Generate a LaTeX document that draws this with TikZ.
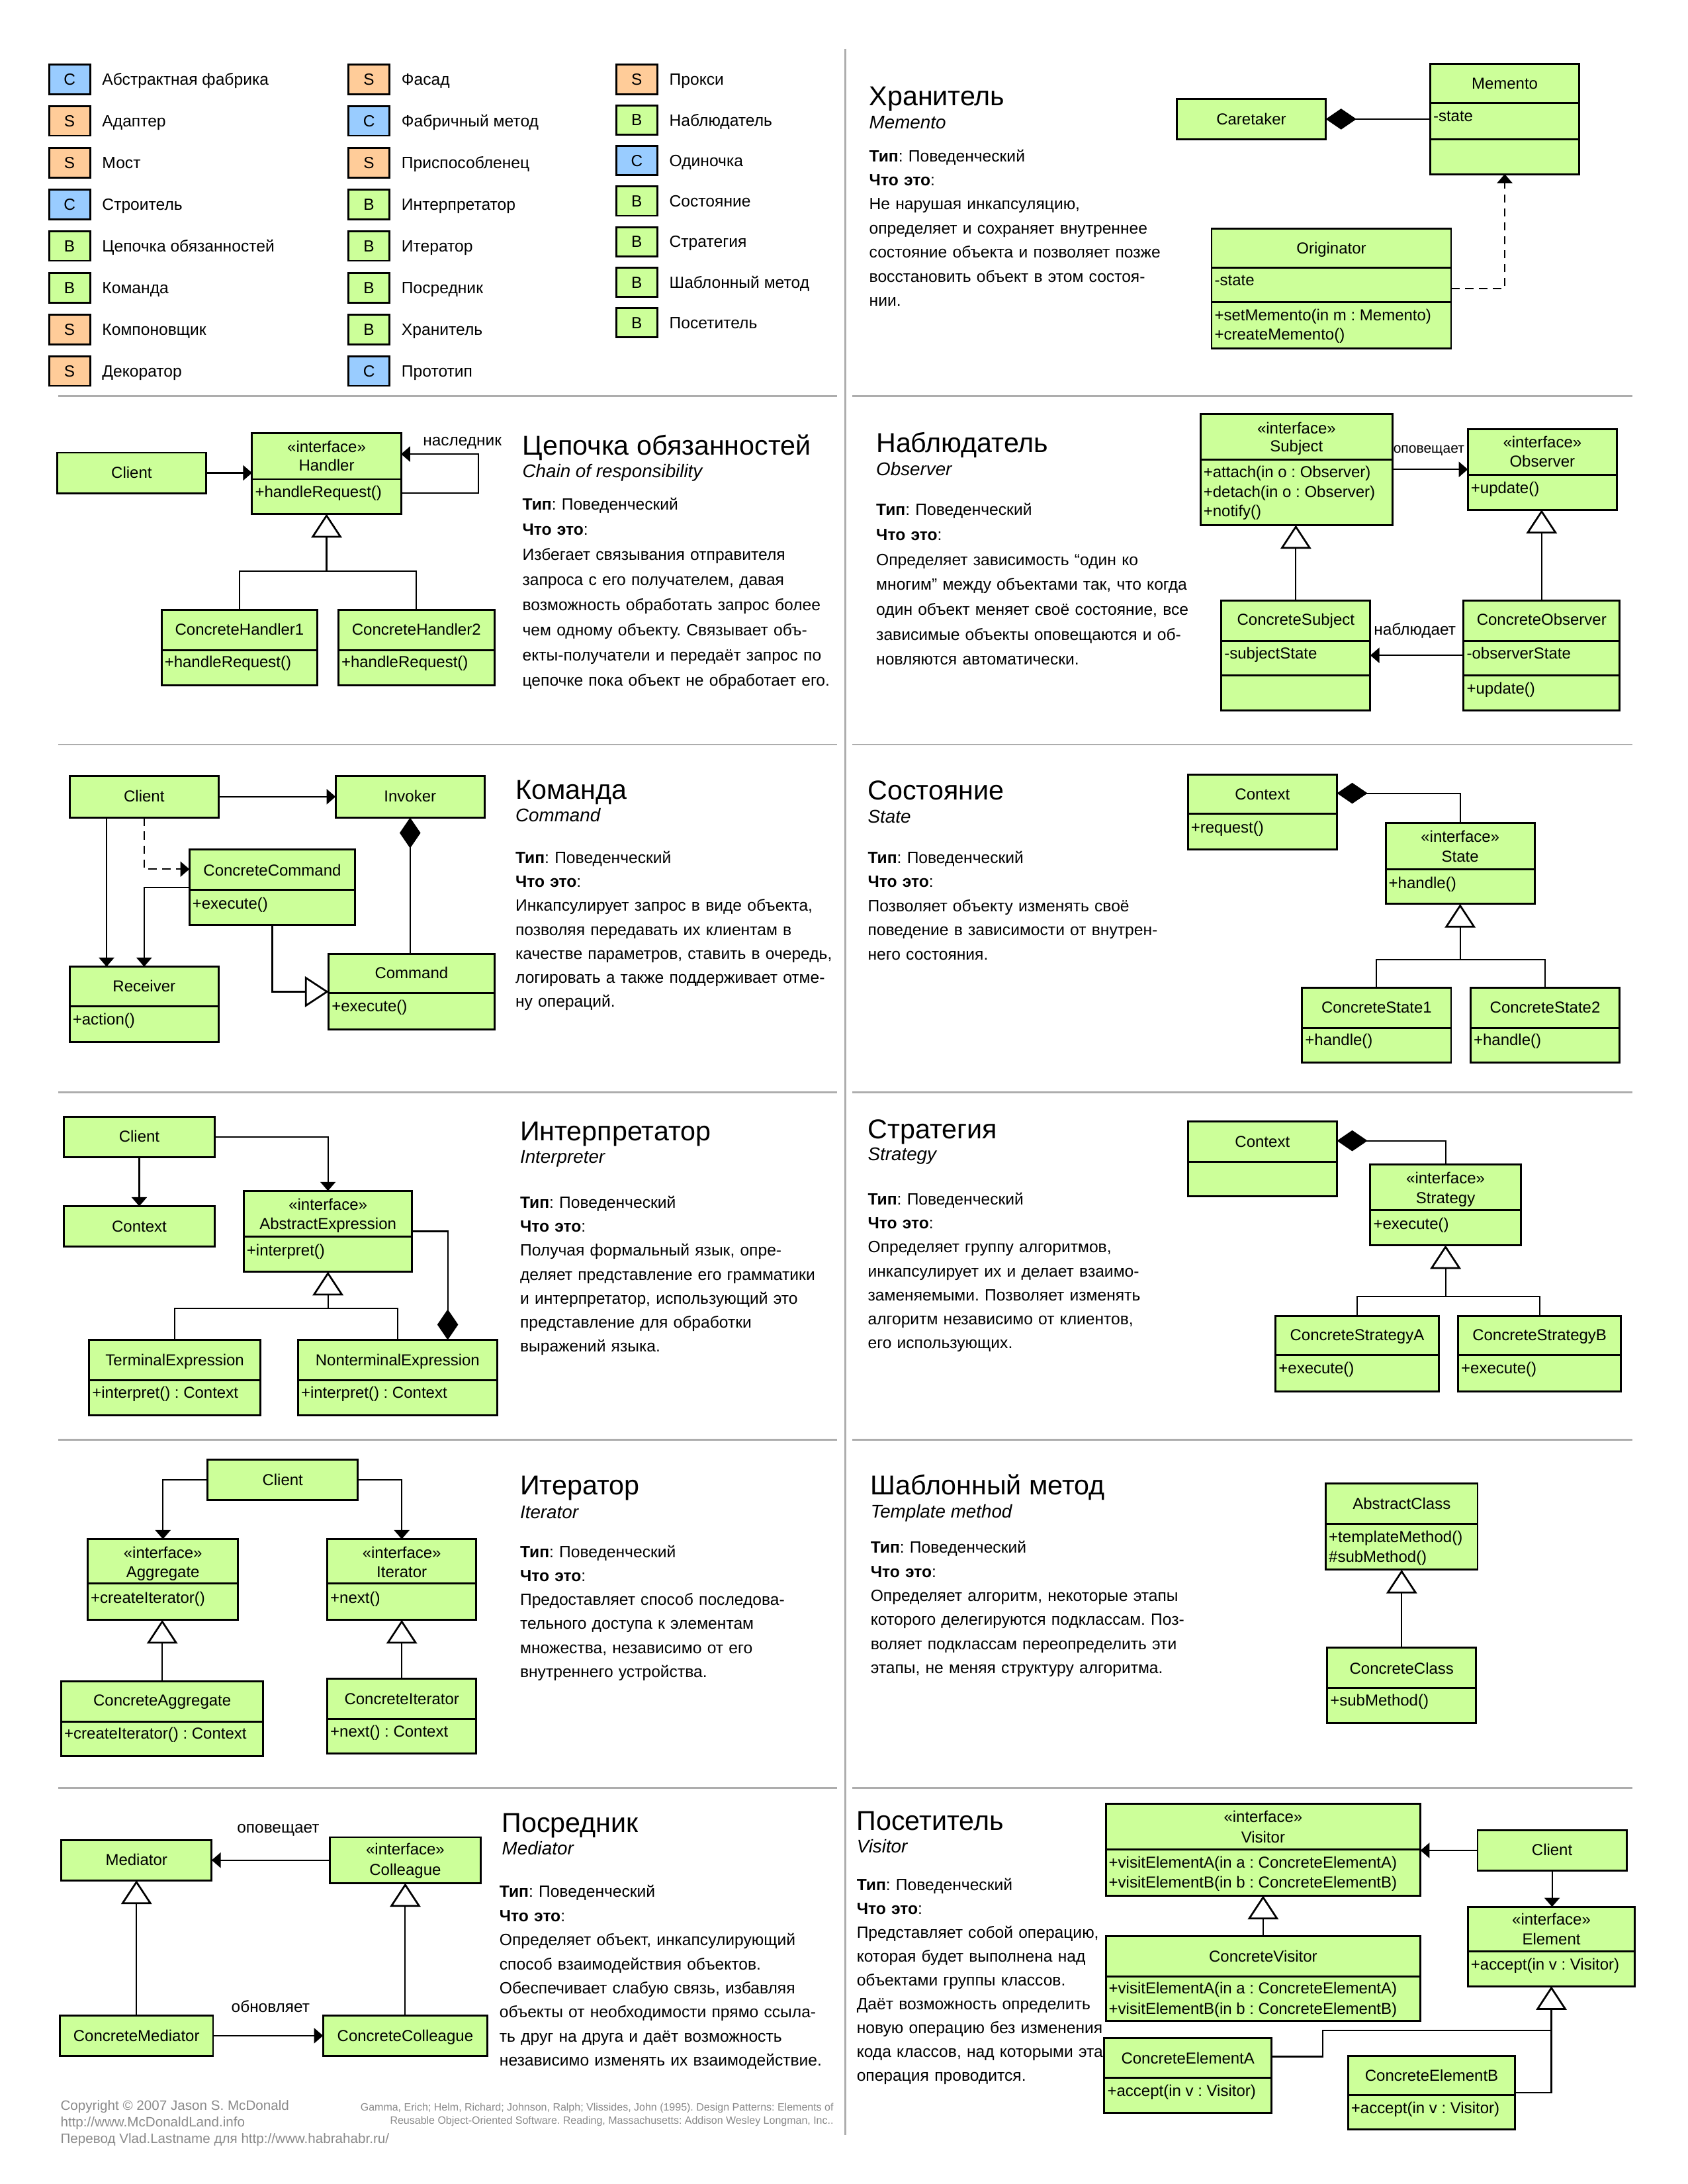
\documentclass[tikz,border=0pt]{standalone}
\usepackage{fontspec}
\setmainfont{Liberation Sans}
\usetikzlibrary{arrows.meta}
\frenchspacing
\definecolor{ugreen}{HTML}{CCFF99}
\definecolor{ublue}{HTML}{99CCFF}
\definecolor{uorange}{HTML}{FFCC99}
\definecolor{sepgray}{HTML}{ADADAD}
\definecolor{footgray}{HTML}{8A8A8A}
\tikzset{
  cls/.style={rectangle,draw=black,fill=ugreen,line width=1.4pt,inner sep=0pt,outer sep=0pt},
  cline/.style={line width=1.4pt},
  btxt/.style={inner sep=0pt,font=\fontsize{11.4}{13}\selectfont},
  btxtL/.style={btxt,inner xsep=2pt},
  conn/.style={line width=1pt},
  assoc/.style={conn,-{Triangle[length=6.5pt,width=11pt]}},
  depline/.style={conn,dash pattern=on 6pt off 4pt,-{Triangle[length=6.5pt,width=11pt]}},
  gen/.style={conn,-{Triangle[fill=white,length=17pt,width=22pt,line width=1.3pt]}},
  compS/.style={conn,{Diamond[length=22pt,width=15pt]}-},
  compE/.style={conn,-{Diamond[length=22pt,width=15pt]}},
  lbl/.style={inner sep=0pt,font=\fontsize{11.6}{13}\selectfont},
  legb/.style={rectangle,draw=black,line width=1.4pt,minimum width=29.5pt,minimum height=21pt,inner sep=0pt,font=\fontsize{11.6}{13}\selectfont},
  legt/.style={inner sep=0pt,font=\fontsize{11.7}{13}\selectfont,anchor=base west},
  ttl/.style={inner sep=0pt,anchor=base west,font=\fontsize{19.6}{22}\selectfont},
  subt/.style={inner sep=0pt,anchor=base west,font=\fontsize{13.2}{15}\selectfont\itshape},
  descr/.style={inner sep=0pt,anchor=base west,align=left,text width=300pt},
  sepline/.style={draw=sepgray,line width=1.2pt},
  foot/.style={inner sep=0pt,text=footgray,font=\fontsize{9.8}{11}\selectfont},
  foottwo/.style={inner sep=0pt,text=footgray,font=\fontsize{7.6}{9}\selectfont},
}
\newcommand\cls[5]{\node[cls,anchor=north west,minimum width={#4-#2},minimum height={#5-#3}] (#1) at (#2,#3) {};}
\newcommand\hl[2]{\draw[cline] (#1.west |- 0,#2) -- (#1.east |- 0,#2);}
\newcommand\umlC[4]{\node[btxt,anchor=base] (#1) at (#2.center |- 0,#3) {#4};}
\newcommand\umlL[4]{\node[btxtL,anchor=base west] (#1) at (#2.west |- 0,#3) {#4};}
\newcommand\leg[6]{\node[legb,fill=#4] (#1) at (#2+14.75,#3) {#5}; \node[legt] (#1-t) at (#2+38,#3+4.2) {#6};}
\newcommand\dfont[1]{\fontsize{11.7}{#1}\selectfont\frenchspacing}
\begin{document}
\begin{tikzpicture}[x=1pt,y=-1pt]
\useasboundingbox (0,0) rectangle (1212,1568);
\fill[white] (0,0) rectangle (1212,1568);

% ---------- separators
\foreach \yy in {284.5,534.5,784.3,1033.7,1283.5}{
  \draw[sepline] (42,\yy) -- (601,\yy);
  \draw[sepline] (612,\yy) -- (1172,\yy);
}
\draw[sepline] (607,35) -- (607,1533);

% ---------- legend
\leg{l11}{35.2}{57}{ublue}{C}{Абстрактная фабрика}
\leg{l12}{35.2}{86.9}{uorange}{S}{Адаптер}
\leg{l13}{35.2}{116.9}{uorange}{S}{Мост}
\leg{l14}{35.2}{146.8}{ublue}{C}{Строитель}
\leg{l15}{35.2}{176.7}{ugreen}{B}{Цепочка обязанностей}
\leg{l16}{35.2}{206.7}{ugreen}{B}{Команда}
\leg{l17}{35.2}{236.6}{uorange}{S}{Компоновщик}
\leg{l18}{35.2}{266.5}{uorange}{S}{Декоратор}
\leg{l21}{250.2}{57}{uorange}{S}{Фасад}
\leg{l22}{250.2}{86.9}{ublue}{C}{Фабричный метод}
\leg{l23}{250.2}{116.9}{uorange}{S}{Приспособленец}
\leg{l24}{250.2}{146.8}{ugreen}{B}{Интерпретатор}
\leg{l25}{250.2}{176.7}{ugreen}{B}{Итератор}
\leg{l26}{250.2}{206.7}{ugreen}{B}{Посредник}
\leg{l27}{250.2}{236.6}{ugreen}{B}{Хранитель}
\leg{l28}{250.2}{266.5}{ublue}{C}{Прототип}
\leg{l31}{442.5}{57}{uorange}{S}{Прокси}
\leg{l32}{442.5}{86.1}{ugreen}{B}{Наблюдатель}
\leg{l33}{442.5}{115.3}{ublue}{C}{Одиночка}
\leg{l34}{442.5}{144.4}{ugreen}{B}{Состояние}
\leg{l35}{442.5}{173.5}{ugreen}{B}{Стратегия}
\leg{l36}{442.5}{202.7}{ugreen}{B}{Шаблонный метод}
\leg{l37}{442.5}{231.8}{ugreen}{B}{Посетитель}

% ---------- Memento
\node[ttl] (memT) at (624,76) {Хранитель};
\node[subt] (memS) at (624,92.3) {Memento};
\node[descr,font=\dfont{17.3}] (memD) at (624,116) {\textbf{Тип}: Поведенческий\\\textbf{Что это}:\\Не нарушая инкапсуляцию,\\определяет и сохраняет внутреннее\\состояние объекта и позволяет позже\\восстановить объект в этом состоя-\\нии.};
\cls{caretaker}{845}{71}{952}{100}
\umlC{caretaker-n}{caretaker}{89.5}{Caretaker}
\cls{memento}{1027}{46}{1134}{125}
\hl{memento}{74}\hl{memento}{100}
\umlC{memento-n}{memento}{64}{Memento}
\umlL{memento-a}{memento}{87}{-state}
\cls{originator}{870}{164}{1042}{250}
\hl{originator}{192}\hl{originator}{217}
\umlC{originator-n}{originator}{182}{Originator}
\umlL{originator-a}{originator}{205}{-state}
\umlL{originator-o1}{originator}{230}{+setMemento(in m : Memento)}
\umlL{originator-o2}{originator}{244}{+createMemento()}
\draw[compS] (caretaker.east) -- (caretaker.east -| memento.west);
\draw[depline] (originator.east) -| (memento.south);

% ---------- Chain of responsibility
\node[ttl] (chT) at (375,326.6) {Цепочка обязанностей};
\node[subt] (chS) at (375,343) {Chain of responsibility};
\node[descr,font=\dfont{18}] (chD) at (375,366.3) {\textbf{Тип}: Поведенческий\\\textbf{Что это}:\\Избегает связывания отправителя\\запроса с его получателем, давая\\возможность обработать запрос более\\чем одному объекту. Связывает объ-\\екты-получатели и передаёт запрос по\\цепочке пока объект не обработает его.};
\cls{chcl}{41}{325}{148}{354}
\umlC{chcl-n}{chcl}{343.5}{Client}
\cls{handler}{181}{311}{288}{369}\hl{handler}{344}
\umlC{handler-s}{handler}{325}{«interface»}
\umlC{handler-n}{handler}{338}{Handler}
\umlL{handler-o}{handler}{357}{+handleRequest()}
\draw[assoc] (chcl.east) -- (chcl.east -| handler.west);
\draw[assoc] ([yshift=-14pt]handler.east) -- ++(55.6,0) |- ([yshift=14pt]handler.east);
\node[lbl] (chlbl) at (332,318) {наследник};
\cls{ch1}{116}{438}{228}{492}\hl{ch1}{467}
\umlC{ch1-n}{ch1}{456}{ConcreteHandler1}
\umlL{ch1-o}{ch1}{479}{+handleRequest()}
\cls{ch2}{243}{438}{355}{492}\hl{ch2}{467}
\umlC{ch2-n}{ch2}{456}{ConcreteHandler2}
\umlL{ch2-o}{ch2}{479}{+handleRequest()}
\coordinate (chj) at (234.5,410);
\draw[gen] (chj) -- (handler.south);
\draw[conn] (ch1.north) |- (chj) -| (ch2.north);

% ---------- Observer
\node[ttl] (obT) at (629,324.7) {Наблюдатель};
\node[subt] (obS) at (629,341.4) {Observer};
\node[descr,font=\dfont{17.9}] (obD) at (629,370) {\textbf{Тип}: Поведенческий\\\textbf{Что это}:\\Определяет зависимость “один ко\\многим” между объектами так, что когда\\один объект меняет своё состояние, все\\зависимые объекты оповещаются и об-\\новляются автоматически.};
\cls{subj}{862}{297}{1000}{377}\hl{subj}{330}
\umlC{subj-s}{subj}{311.3}{«interface»}
\umlC{subj-n}{subj}{324.3}{Subject}
\umlL{subj-o1}{subj}{343}{+attach(in o : Observer)}
\umlL{subj-o2}{subj}{357}{+detach(in o : Observer)}
\umlL{subj-o3}{subj}{371}{+notify()}
\cls{obs}{1054}{308}{1161}{366}\hl{obs}{341}
\umlC{obs-s}{obs}{321.6}{«interface»}
\umlC{obs-n}{obs}{335.3}{Observer}
\umlL{obs-o}{obs}{354}{+update()}
\draw[assoc] (subj.east) -- (subj.east -| obs.west);
\node[lbl,font=\fontsize{10}{12}\selectfont] (obl1) at (1026,323.5) {оповещает};
\cls{csub}{877}{431}{984}{510}\hl{csub}{460}\hl{csub}{485}
\umlC{csub-n}{csub}{449}{ConcreteSubject}
\umlL{csub-a}{csub}{473}{-subjectState}
\cls{cobs}{1051}{431}{1163}{510}\hl{cobs}{460}\hl{cobs}{485}
\umlC{cobs-n}{cobs}{449}{ConcreteObserver}
\umlL{cobs-a}{cobs}{473}{-observerState}
\umlL{cobs-o}{cobs}{498}{+update()}
\draw[gen] (csub.north) -- (csub.north |- subj.south);
\draw[gen] (cobs.north) -- (cobs.north |- obs.south);
\draw[assoc] (cobs.west) -- (cobs.west -| csub.east);
\node[lbl] (obl2) at (1016,453) {наблюдает};

% ---------- Command
\node[ttl] (cmT) at (370,573.7) {Команда};
\node[subt] (cmS) at (370,590) {Command};
\node[descr,font=\dfont{17.2}] (cmD) at (370,619.8) {\textbf{Тип}: Поведенческий\\\textbf{Что это}:\\Инкапсулирует запрос в виде объекта,\\позволяя передавать их клиентам в\\качестве параметров, ставить в очередь,\\логировать а также поддерживает отме-\\ну операций.};
\cls{cmcl}{50}{557}{157}{587}
\umlC{cmcl-n}{cmcl}{575.6}{Client}
\cls{inv}{241}{557}{348}{587}
\umlC{inv-n}{inv}{575.6}{Invoker}
\cls{cc}{136}{610}{255}{664}\hl{cc}{639}
\umlC{cc-n}{cc}{629}{ConcreteCommand}
\umlL{cc-o}{cc}{652.8}{+execute()}
\cls{cmd}{236}{685}{355}{739}\hl{cmd}{713}
\umlC{cmd-n}{cmd}{702.7}{Command}
\umlL{cmd-o}{cmd}{726.4}{+execute()}
\cls{rcv}{50}{694}{157}{748}\hl{rcv}{722.4}
\umlC{rcv-n}{rcv}{712.2}{Receiver}
\umlL{rcv-o}{rcv}{735.6}{+action()}
\draw[assoc] (cmcl.east) -- (cmcl.east -| inv.west);
\draw[assoc] ([xshift=-27pt]cmcl.south) -- ([xshift=-27pt]cmcl.south |- rcv.north);
\draw[depline] (cmcl.south) |- ([yshift=13pt]cc.west);
\draw[assoc] (cc.west) -| (rcv.north);
\draw[gen] (cc.south) |- (cmd.west);
\draw[compS] (inv.south) -- (inv.south |- cmd.north);

% ---------- State
\node[ttl] (stT) at (623,574.3) {Состояние};
\node[subt] (stS) at (623,591) {State};
\node[descr,font=\dfont{17.3}] (stD) at (623,619.8) {\textbf{Тип}: Поведенческий\\\textbf{Что это}:\\Позволяет объекту изменять своё\\поведение в зависимости от внутрен-\\него состояния.};
\cls{sctx}{853}{556}{960}{610}\hl{sctx}{584}
\umlC{sctx-n}{sctx}{574.3}{Context}
\umlL{sctx-o}{sctx}{598}{+request()}
\cls{sst}{995}{591}{1102}{649}\hl{sst}{624}
\umlC{sst-s}{sst}{604.8}{«interface»}
\umlC{sst-n}{sst}{618.7}{State}
\umlL{sst-o}{sst}{637.7}{+handle()}
\draw[compS] ([yshift=13.5pt]sctx.east) -| (sst.north);
\cls{cs1}{935}{709}{1042}{763}\hl{cs1}{738}
\umlC{cs1-n}{cs1}{727.2}{ConcreteState1}
\umlL{cs1-o}{cs1}{750.5}{+handle()}
\cls{cs2}{1056}{709}{1163}{763}\hl{cs2}{738}
\umlC{cs2-n}{cs2}{727.2}{ConcreteState2}
\umlL{cs2-o}{cs2}{750.5}{+handle()}
\coordinate (stj) at (1048.5,689);
\draw[gen] (stj) -- (sst.south);
\draw[conn] (cs1.north) |- (stj) -| (cs2.north);

% ---------- Interpreter
\node[ttl] (inT) at (373.3,818.8) {Интерпретатор};
\node[subt] (inS) at (373.3,835) {Interpreter};
\node[descr,font=\dfont{17.2}] (inD) at (373.3,867.4) {\textbf{Тип}: Поведенческий\\\textbf{Что это}:\\Получая формальный язык, опре-\\деляет представление его грамматики\\и интерпретатор, использующий это\\представление для обработки\\выражений языка.};
\cls{icl}{46}{802}{154}{831}
\umlC{icl-n}{icl}{820}{Client}
\cls{ictx}{46}{866}{154}{895}
\umlC{ictx-n}{ictx}{884.3}{Context}
\cls{ae}{175}{855}{296}{913}\hl{ae}{888}
\umlC{ae-s}{ae}{869}{«interface»}
\umlC{ae-n}{ae}{882.8}{AbstractExpression}
\umlL{ae-o}{ae}{901.5}{+interpret()}
\draw[assoc] (icl.south) -- (ictx.north);
\draw[assoc] (icl.east) -| (ae.north);
\cls{te}{64}{962}{187}{1016}\hl{te}{991}
\umlC{te-n}{te}{980.7}{TerminalExpression}
\umlL{te-o}{te}{1003.7}{+interpret() : Context}
\cls{nte}{214}{962}{357}{1016}\hl{nte}{991}
\umlC{nte-n}{nte}{980.7}{NonterminalExpression}
\umlL{nte-o}{nte}{1003.7}{+interpret() : Context}
\coordinate (inj) at (235.5,939.5);
\draw[gen] (inj) -- (ae.south);
\draw[conn] (te.north) |- (inj) -| (nte.north);
\draw[compE] (ae.east) -| ([xshift=36pt]nte.north);

% ---------- Strategy
\node[ttl] (sgT) at (623,817.5) {Стратегия};
\node[subt] (sgS) at (623,833.3) {Strategy};
\node[descr,font=\dfont{17.2}] (sgD) at (623,865) {\textbf{Тип}: Поведенческий\\\textbf{Что это}:\\Определяет группу алгоритмов,\\инкапсулирует их и делает взаимо-\\заменяемыми. Позволяет изменять\\алгоритм независимо от клиентов,\\его использующих.};
\cls{stctx}{853}{805}{960}{859}\hl{stctx}{834}
\umlC{stctx-n}{stctx}{823.9}{Context}
\cls{sstr}{984}{836}{1092}{894}\hl{sstr}{869}
\umlC{sstr-s}{sstr}{850}{«interface»}
\umlC{sstr-n}{sstr}{864}{Strategy}
\umlL{sstr-o}{sstr}{882.5}{+execute()}
\draw[compS] ([yshift=13pt]stctx.east) -| (sstr.north);
\cls{csa}{916}{945}{1033}{999}\hl{csa}{973}
\umlC{csa-n}{csa}{962.5}{ConcreteStrategyA}
\umlL{csa-o}{csa}{986.2}{+execute()}
\cls{csb}{1047}{945}{1164}{999}\hl{csb}{973}
\umlC{csb-n}{csb}{962.5}{ConcreteStrategyB}
\umlL{csb-o}{csb}{986.2}{+execute()}
\coordinate (sgj) at (1038,931);
\draw[gen] (sgj) -- (sstr.south);
\draw[conn] (csa.north) |- (sgj) -| (csb.north);

% ---------- Iterator
\node[ttl] (itT) at (373.3,1073.3) {Итератор};
\node[subt] (itS) at (373.3,1090) {Iterator};
\node[descr,font=\dfont{17.2}] (itD) at (373.3,1118.2) {\textbf{Тип}: Поведенческий\\\textbf{Что это}:\\Предоставляет способ последова-\\тельного доступа к элементам\\множества, независимо от его\\внутреннего устройства.};
\cls{itcl}{149}{1048}{257}{1077}
\umlC{itcl-n}{itcl}{1066.3}{Client}
\cls{agg}{63}{1105}{171}{1163}\hl{agg}{1137}
\umlC{agg-s}{agg}{1118.6}{«interface»}
\umlC{agg-n}{agg}{1132.3}{Aggregate}
\umlL{agg-o}{agg}{1151}{+createIterator()}
\cls{iter}{235}{1105}{342}{1163}\hl{iter}{1137}
\umlC{iter-s}{iter}{1118.6}{«interface»}
\umlC{iter-n}{iter}{1132.3}{Iterator}
\umlL{iter-o}{iter}{1151}{+next()}
\draw[assoc] (itcl.west) -| (agg.north);
\draw[assoc] (itcl.east) -| (iter.north);
\cls{cagg}{44}{1207}{189}{1261}\hl{cagg}{1236}
\umlC{cagg-n}{cagg}{1224.7}{ConcreteAggregate}
\umlL{cagg-o}{cagg}{1248.4}{+createIterator() : Context}
\cls{citer}{235}{1205}{342}{1259}\hl{citer}{1234}
\umlC{citer-n}{citer}{1223.6}{ConcreteIterator}
\umlL{citer-o}{citer}{1246.9}{+next() : Context}
\draw[gen] (cagg.north) -- (cagg.north |- agg.south);
\draw[gen] (citer.north) -- (iter.south);

% ---------- Template method
\node[ttl] (tmT) at (625,1073.3) {Шаблонный метод};
\node[subt] (tmS) at (625,1089.7) {Template method};
\node[descr,font=\dfont{17.3}] (tmD) at (625,1115) {\textbf{Тип}: Поведенческий\\\textbf{Что это}:\\Определяет алгоритм, некоторые этапы\\которого делегируются подклассам. Поз-\\воляет подклассам переопределить эти\\этапы, не меняя структуру алгоритма.};
\cls{ac}{952}{1065}{1061}{1127}\hl{ac}{1094}
\umlC{ac-n}{ac}{1083.4}{AbstractClass}
\umlL{ac-o1}{ac}{1107.5}{+templateMethod()}
\umlL{ac-o2}{ac}{1121.7}{\#subMethod()}
\cls{ccl}{953}{1183}{1060}{1237}\hl{ccl}{1212}
\umlC{ccl-n}{ccl}{1201.7}{ConcreteClass}
\umlL{ccl-o}{ccl}{1224.7}{+subMethod()}
\draw[gen] (ccl.north) -- (ccl.north |- ac.south);

% ---------- Mediator
\node[ttl] (mdT) at (360.3,1315.6) {Посредник};
\node[subt] (mdS) at (360.3,1331.7) {Mediator};
\node[descr,font=\dfont{17.3}] (mdD) at (358.5,1362.2) {\textbf{Тип}: Поведенческий\\\textbf{Что это}:\\Определяет объект, инкапсулирующий\\способ взаимодействия объектов.\\Обеспечивает слабую связь, избавляя\\объекты от необходимости прямо ссыла-\\ть друг на друга и даёт возможность\\независимо изменять их взаимодействие.};
\cls{med}{44}{1321}{152}{1350}
\umlC{med-n}{med}{1339}{Mediator}
\cls{coll}{237}{1319}{345}{1352}
\umlC{coll-s}{coll}{1331.7}{«interface»}
\umlC{coll-n}{coll}{1346.2}{Colleague}
\draw[assoc] (coll.west) -- (coll.west -| med.east);
\node[lbl] (mdl1) at (199.8,1313.8) {оповещает};
\cls{cmed}{43}{1447}{153}{1476}
\umlC{cmed-n}{cmed}{1465.5}{ConcreteMediator}
\cls{ccoll}{232}{1447}{350}{1476}
\umlC{ccoll-n}{ccoll}{1465.5}{ConcreteColleague}
\draw[gen] (cmed.north) -- (cmed.north |- med.south);
\draw[gen] (ccoll.north) -- (ccoll.north |- coll.south);
\draw[assoc] (cmed.east) -- (cmed.east -| ccoll.west);
\node[lbl] (mdl2) at (194.3,1440.3) {обновляет};

% ---------- Visitor
\node[ttl] (vsT) at (615,1313.8) {Посетитель};
\node[subt] (vsS) at (615,1330) {Visitor};
\node[descr,font=\dfont{17.1}] (vsD) at (615,1357.2) {\textbf{Тип}: Поведенческий\\\textbf{Что это}:\\Представляет собой операцию,\\которая будет выполнена над\\объектами группы классов.\\Даёт возможность определить\\новую операцию без изменения\\кода классов, над которыми эта\\операция проводится.};
\cls{vis}{794}{1295}{1020}{1361}\hl{vis}{1328}
\umlC{vis-s}{vis}{1308.5}{«interface»}
\umlC{vis-n}{vis}{1323}{Visitor}
\umlL{vis-o1}{vis}{1341.3}{+visitElementA(in a : ConcreteElementA)}
\umlL{vis-o2}{vis}{1355.2}{+visitElementB(in b : ConcreteElementB)}
\cls{vcl}{1061}{1314}{1168}{1343}
\umlC{vcl-n}{vcl}{1332.2}{Client}
\draw[assoc] (vcl.west) -- (vcl.west -| vis.east);
\cls{cv}{794}{1390}{1020}{1451}\hl{cv}{1419}
\umlC{cv-n}{cv}{1408.6}{ConcreteVisitor}
\umlL{cv-o1}{cv}{1431.6}{+visitElementA(in a : ConcreteElementA)}
\umlL{cv-o2}{cv}{1446}{+visitElementB(in b : ConcreteElementB)}
\draw[gen] (cv.north) -- (cv.north |- vis.south);
\cls{elem}{1054}{1369}{1174}{1426}\hl{elem}{1401}
\umlC{elem-s}{elem}{1382}{«interface»}
\umlC{elem-n}{elem}{1396}{Element}
\umlL{elem-o}{elem}{1414.2}{+accept(in v : Visitor)}
\draw[assoc] (vcl.south) -- (vcl.south |- elem.north);
\cls{cea}{793}{1463}{913}{1517}\hl{cea}{1491.5}
\umlC{cea-n}{cea}{1481.6}{ConcreteElementA}
\umlL{cea-o}{cea}{1505}{+accept(in v : Visitor)}
\cls{ceb}{968}{1476}{1088}{1529}\hl{ceb}{1504}
\umlC{ceb-n}{ceb}{1494}{ConcreteElementB}
\umlL{ceb-o}{ceb}{1517.3}{+accept(in v : Visitor)}
\coordinate (vsj) at (1114,1457.7);
\draw[gen] (vsj) -- (vsj |- elem.south);
\draw[conn] ([yshift=13.5pt]cea.east) -- ++(37,0) |- (vsj);
\draw[conn] (ceb.east) -| (vsj);

% ---------- footer
\node[foot,anchor=base west] (f1) at (43.3,1515) {Copyright © 2007 Jason S. McDonald};
\node[foot,anchor=base west] (f2) at (43.3,1526.8) {http://www.McDonaldLand.info};
\node[foot,anchor=base west] (f3) at (43.3,1538.7) {Перевод Vlad.Lastname для http://www.habrahabr.ru/};
\node[foottwo,anchor=base east] (f4) at (598.7,1515.6) {Gamma, Erich; Helm, Richard; Johnson, Ralph; Vlissides, John (1995). Design Patterns: Elements of};
\node[foottwo,anchor=base east] (f5) at (598.7,1525) {Reusable Object-Oriented Software. Reading, Massachusetts: Addison Wesley Longman, Inc..};
\end{tikzpicture}
\end{document}
